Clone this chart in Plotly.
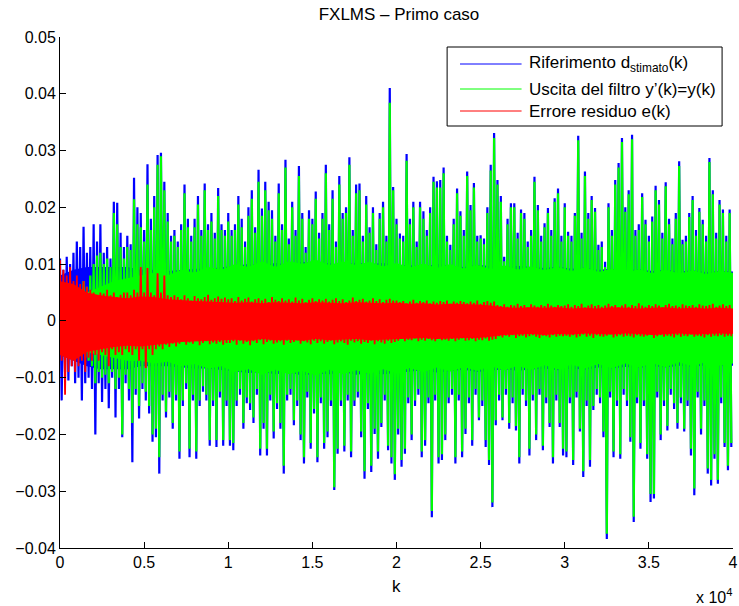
import numpy as np
import plotly.graph_objects as go

# sample step between successive extreme points (k units)
K_STEP = 100
# step of the dense-core envelope samples (k units)
K_BAND = 800

# all values below are in thousandths (x 1e-3)
blue_up = [
    11, 9, 11.3, 10, 12, 14, 13, 16.6, 12, 13,
    17, 14, 17, 12, 13, 11, 21, 20.8, 15.5, 13,
    15, 13.5, 25.2, 20, 19, 16, 27.6, 18, 22, 29.2,
    29.6, 24.5, 19, 15, 16, 14, 17, 24, 18, 15,
    18, 22, 16, 24.2, 17, 19, 15.5, 23.4, 17, 16,
    19, 16, 17, 22, 18, 14, 20, 23, 16.5, 26.6,
    19.8, 24.5, 21, 19.5, 15, 24.2, 17, 28.4, 14.5, 21,
    16, 27.3, 19, 13, 19.5, 18, 22.8, 15.5, 19, 27.5,
    17, 23, 14, 25.5, 19, 20, 28.8, 16, 24, 24.2,
    15, 22, 16.5, 20, 13.5, 19, 21, 15, 41, 23.6,
    18, 15.4, 15, 29.4, 18, 21, 14, 21, 19.3, 16,
    20, 25.4, 24.6, 24.8, 27, 15, 13.4, 18, 23.3, 19.3,
    16, 26.3, 20.4, 24.3, 15, 15.1, 14.5, 20, 27.5, 33.1,
    24.8, 22, 11.3, 18, 20.7, 20.7, 15.5, 19.6, 19, 14,
    16, 25.4, 20.4, 15, 17.2, 19.9, 16, 21.6, 23.3, 15,
    20.7, 15.7, 15, 19, 32.6, 15.5, 26.3, 19, 22, 19.9,
    13.4, 14, 10.4, 20.7, 16, 24.8, 27.8, 32.2, 20, 23,
    32.8, 16, 17, 22.5, 17.8, 15, 18.4, 23.8, 21.3, 15.5,
    24.4, 18, 14.5, 19, 28.1, 14.3, 15, 19, 22, 16,
    19.9, 17.8, 15, 28.7, 23, 15.5, 21.3, 19.6, 15, 19.6,
]
blue_lo = [
    -14, -9, -10.5, -8, -11, -10, -14, -11, -10, -12,
    -20, -11, -14.3, -12, -15.4, -10, -17, -12, -20.5, -11,
    -14, -24.9, -13, -17.2, -12, -14, -16.3, -21.3, -20.5, -26.9,
    -14, -17, -13.5, -19, -14, -24.3, -15, -12, -24, -14,
    -24.3, -15, -12.5, -14, -22, -15, -22.2, -13.5, -22, -15,
    -22, -22.8, -15, -13, -19, -14.5, -15.7, -18, -13, -23.7,
    -19, -23.7, -14, -20.7, -15.5, -19, -26.9, -14, -13, -18.4,
    -15, -21, -25.1, -13.5, -22.5, -16.3, -24.9, -14.5, -22.5, -20.5,
    -15, -29.8, -23.4, -15, -23, -14, -24, -15, -13.5, -20.5,
    -27.8, -15.5, -26.6, -19.9, -24.3, -18.7, -14, -22.8, -25.1, -28,
    -20, -25.7, -23.4, -14.5, -21, -15, -13, -24, -22, -14.5,
    -34.6, -14, -25.1, -24.5, -21, -14.5, -13, -25.1, -14, -24,
    -19.9, -14.5, -22, -13, -17.5, -15, -22.2, -25.4, -32.8, -18.4,
    -14, -17.5, -13, -19, -14.5, -19.3, -25.1, -13, -15, -23.7,
    -14, -21, -13, -22.8, -14.5, -18.7, -25.1, -14, -18.7, -23.7,
    -24, -14.5, -25.4, -13.5, -19.5, -27.5, -15, -25.7, -15.7, -13,
    -14.5, -20.5, -38.4, -13.5, -24, -15, -24.3, -13, -15, -21.3,
    -35.4, -14.5, -22.5, -15, -24.3, -31.9, -31.3, -13.5, -21, -15,
    -19.3, -13, -15.5, -19, -14.5, -19.5, -15, -23.7, -30.7, -13.5,
    -20, -15, -26.9, -29, -24.3, -28.7, -14.5, -22.2, -26.3, -22.2,
]
green_up = [
    3, 4, 3.5, 5, 4.5, 6, 5, 7, 6, 8,
    10, 11.5, 12, 10, 11, 9.5, 19, 17, 13, 11,
    13, 12.5, 21.4, 17, 16.5, 14, 24, 16, 20, 27.5,
    29, 23, 17.5, 14, 15, 13, 16, 22.5, 16.5, 14,
    16.5, 20.5, 15, 23, 16, 17.5, 14.5, 22, 16, 15,
    17.5, 15, 16, 20.5, 16.5, 13, 18.5, 21.5, 15.5, 24.5,
    18.5, 23, 19.5, 18, 14, 22.5, 16, 27, 13.5, 20,
    15, 25.5, 18, 12, 18, 17, 21.5, 14.5, 18, 26,
    16, 21.5, 13, 24, 18, 19, 27.5, 15, 22.5, 23,
    14, 20.5, 15.5, 19, 12.5, 18, 20, 14, 38.4, 23,
    17, 14.5, 14, 28.2, 17, 20, 13, 20, 18, 15,
    19, 24.5, 23.5, 23.5, 26, 14, 12.5, 17, 22.5, 18.5,
    15, 25.5, 19.5, 23.5, 14, 14.5, 13.5, 19, 26.5, 32.2,
    24, 21, 10.5, 17, 20, 20, 14.5, 19, 18, 13,
    15, 24.5, 19.5, 14, 16.5, 19, 15, 21, 22.5, 14,
    20, 15, 14, 18.5, 31.8, 14.5, 25.5, 18, 21.3, 19.2,
    12.5, 13, 9.5, 20, 15, 24, 27, 31.5, 19.2, 22.3,
    32, 15, 16, 21.8, 17, 14, 17.5, 23, 20.5, 14.5,
    23.7, 17, 13.5, 18, 27.3, 13.5, 14, 18.3, 21.3, 15,
    19.2, 17, 14, 28, 22.3, 14.5, 20.5, 19, 14, 19,
]
green_lo = [
    -4, -5, -4.5, -5, -6, -5.5, -6, -6.5, -7, -8,
    -11, -9, -10, -9.5, -11, -9, -12, -10, -20, -9.5,
    -12, -18, -12, -15, -11, -12.5, -15, -20, -19, -24,
    -13, -16, -12.5, -18, -13, -23, -14, -11, -22.5, -13,
    -23, -14, -11.5, -13, -21, -14, -21, -12.5, -21, -14,
    -21, -21.5, -14, -12, -18, -13.5, -14.5, -17, -12, -22.5,
    -18, -22.5, -13, -19.5, -14.5, -18, -25.5, -13, -12, -17.5,
    -14, -20, -24, -12.5, -21.5, -15.5, -24, -13.5, -21.5, -19.5,
    -14, -29.3, -22.5, -14, -22, -13, -23, -14, -12.5, -19.5,
    -26.5, -14.5, -25.5, -19, -23, -18, -13, -22, -24, -27,
    -19, -24.5, -22.5, -13.5, -20, -14, -12, -23, -21, -13.5,
    -33.5, -13, -24, -23.5, -20, -13.5, -12, -24, -13, -23,
    -19, -13.5, -21, -12, -17, -14, -21, -24.5, -32, -17.5,
    -13, -17, -12, -18, -13.5, -18.5, -24, -12, -14, -22.5,
    -13, -20, -12, -22, -13.5, -18, -24, -13, -18, -22.5,
    -23, -13.5, -24.5, -12.5, -19, -26.5, -14, -24.5, -15, -12,
    -13.5, -19.5, -37.5, -12.5, -23, -14, -23.5, -12, -14, -20.5,
    -34.5, -13.5, -21.5, -14, -23.5, -30.5, -30.5, -12.5, -20, -14,
    -18.5, -12, -14.5, -18, -13.5, -19, -14, -22.5, -29.5, -12.5,
    -19, -14, -26, -28, -23.5, -28, -13.5, -21.5, -25.5, -21.5,
]
red_up = [
    10.7, 9, 8, 9.5, 7, 8, 6.5, 7, 6, 5.5,
    5, 4.5, 5, 4.8, 5.5, 4.5, 5, 4.2, 4.6, 5,
    5, 4.5, 5.5, 5, 9.5, 5, 9.3, 5, 4.5, 8.4,
    5, 8, 4.5, 4.2, 4.5, 4.2, 3.8, 4.5, 4, 3.6,
    4.4, 4, 3.8, 4.2, 4.6, 3.7, 4, 4.3, 3.9, 4.1,
    3.8, 4, 3.5, 4.2, 3.6, 3.9, 4.1, 3.4, 3.8, 4,
    3.6, 3.9, 3.3, 4.2, 3.7, 3.5, 4, 3.6, 3.8, 3.4,
    4.1, 3.6, 3.9, 3.3, 3.7, 4, 3.5, 3.8, 3.6, 3.9,
    3.4, 3.7, 4, 3.5, 3.8, 3.3, 3.6, 4.1, 3.5, 3.7,
    3.9, 3.4, 3.6, 4, 3.5, 3.8, 3.3, 3.7, 3.9, 3.6,
    3.6, 3.3, 3.5, 3.1, 3.4, 3.7, 3.2, 3.5, 3.3, 3.6,
    3.1, 3.4, 3.2, 3.5, 3.3, 3.6, 3.0, 3.4, 3.2, 3.5,
    3.3, 3.1, 3.4, 3.2, 3.6, 3.0, 3.3, 3.5, 3.2, 3.4,
    2.8, 2.6, 2.9, 2.5, 2.8, 2.7, 3.0, 2.6, 2.8, 2.4,
    2.9, 2.7, 2.5, 2.8, 2.6, 3.0, 2.7, 2.5, 2.8, 2.6,
    2.7, 2.9, 2.5, 2.8, 2.6, 3.0, 2.4, 2.7, 2.9, 2.6,
    2.8, 2.5, 2.7, 3.0, 2.6, 2.8, 2.4, 2.7, 2.9, 2.5,
    2.8, 2.6, 3.1, 2.7, 2.5, 2.8, 2.6, 2.9, 2.7, 2.4,
    2.8, 3.0, 2.6, 2.7, 2.5, 2.9, 2.7, 2.6, 2.8, 2.5,
    2.9, 2.7, 2.6, 2.8, 3.0, 2.5, 2.7, 2.9, 2.6, 2.8,
]
red_lo = [
    -7, -13, -9, -8, -9, -8, -7, -9, -6.5, -7,
    -6, -7, -5.5, -6, -8, -5, -6, -5.5, -6, -5,
    -5.5, -6, -5, -7, -5, -8.3, -5, -6, -5, -4.5,
    -5, -4.2, -4.6, -4, -4.5, -4, -3.6, -4.2, -3.8, -4,
    -3.5, -4.3, -3.9, -3.6, -4.1, -3.8, -4, -3.7, -4.2, -3.9,
    -3.9, -3.6, -4.2, -3.5, -4, -3.7, -4.3, -3.6, -3.9, -3.4,
    -4.1, -3.7, -3.5, -4, -3.8, -3.6, -4.2, -3.5, -3.9, -3.7,
    -3.4, -4, -3.6, -3.8, -4.1, -3.5, -3.9, -3.6, -4, -3.7,
    -3.5, -4.1, -3.8, -3.6, -3.9, -4.2, -3.5, -3.8, -3.6, -4,
    -3.7, -3.9, -3.5, -4.1, -3.6, -3.8, -4, -3.5, -3.9, -3.7,
    -3.5, -3.2, -3.6, -3.3, -3.4, -3.1, -3.6, -3.3, -3.5, -3.2,
    -3.4, -3.6, -3.1, -3.4, -3.3, -3.5, -3.2, -3.6, -3.3, -3.1,
    -3.5, -3.4, -3.2, -3.6, -3.3, -3.4, -3.1, -3.5, -3.3, -3.2,
    -2.7, -2.9, -2.6, -2.8, -2.5, -3.0, -2.7, -2.6, -2.9, -2.7,
    -2.5, -2.8, -3.0, -2.6, -2.7, -2.9, -2.5, -2.8, -2.6, -2.7,
    -2.6, -2.8, -2.5, -2.9, -2.7, -2.4, -2.8, -2.6, -3.0, -2.5,
    -2.7, -2.8, -2.6, -2.4, -2.9, -2.7, -2.5, -2.8, -2.6, -2.7,
    -2.9, -2.5, -2.7, -2.8, -2.6, -2.4, -3.0, -2.7, -2.5, -2.8,
    -2.6, -2.7, -2.9, -2.5, -2.8, -2.6, -2.7, -2.4, -2.8, -2.6,
    -2.7, -2.9, -2.5, -2.8, -2.6, -2.7, -2.5, -2.8, -2.6, -2.7,
]

# dense-core envelopes (solid region of each signal), one value every K_BAND samples
blue_core_up = [
    8, 9, 9.5, 9.5, 9.5, 9.5, 9, 9, 8.8, 9,
    9.2, 9.2, 9.4, 9.7, 10, 9.8, 10.2, 9.9, 10.4, 10.1,
    10.2, 9.8, 10.3, 10, 10.2, 9.9, 9.8, 9.6, 10, 9.7,
    9.5, 9.9, 9.6, 9.4, 9.7, 9.5, 9.3, 9.6, 9.2, 9.4,
    9, 9.2, 8.9, 9.1, 8.8, 9, 8.7, 8.9, 8.6, 8.8, 8.7,
]
blue_core_lo = [
    -6, -7, -8, -8.5, -8.5, -8.5, -8, -8, -8, -8.2,
    -8.4, -8.4, -8.6, -8.9, -9.2, -9, -9.4, -9.1, -9.6, -9.3,
    -9.4, -9, -9.5, -9.2, -9.4, -9.1, -8.9, -8.7, -9.1, -8.8,
    -8.6, -9, -8.7, -8.5, -8.8, -8.6, -8.4, -8.7, -8.4, -8.6,
    -8.2, -8.4, -8.1, -8.3, -8, -8.2, -7.9, -8.1, -7.8, -8, -7.9,
]
green_core_up = [
    3, 4, 5, 6, 7, 7.5, 8, 8.5, 8, 9,
    8.5, 9.5, 9, 10, 9.5, 10.5, 9.5, 10.5, 10, 10.8,
    9.8, 10.5, 9.8, 10.4, 9.6, 10.2, 9.4, 10.1, 9.3, 10,
    9.2, 9.9, 9.1, 9.8, 9, 9.6, 8.9, 9.5, 8.8, 9.4,
    8.6, 9.2, 8.5, 9.1, 8.4, 9, 8.3, 8.9, 8.2, 8.8, 8.5,
]
green_core_lo = [
    -4, -5, -5.5, -6, -6.5, -7, -7, -7.5, -7.2, -8,
    -7.6, -8.4, -8, -9, -8.5, -9.5, -8.6, -9.4, -8.8, -9.6,
    -8.6, -9.4, -8.7, -9.3, -8.5, -9.2, -8.3, -9, -8.2, -8.9,
    -8.1, -8.8, -8, -8.7, -7.9, -8.6, -7.8, -8.5, -7.7, -8.4,
    -7.6, -8.3, -7.5, -8.2, -7.4, -8.1, -7.3, -8, -7.2, -7.9, -7.5,
]
red_core_up = [
    7, 6.5, 5, 4.5, 4.2, 4, 4.3, 4.2, 3.8, 3.6,
    3.5, 3.4, 3.3, 3.2, 3.3, 3.1, 3.3, 3.2, 3.1, 3.3,
    3.2, 3.1, 3.3, 3.2, 3.1, 3.2, 3.0, 3.1, 2.9, 3.0,
    3.0, 2.9, 2.7, 2.4, 2.3, 2.4, 2.3, 2.4, 2.2, 2.3,
    2.2, 2.4, 2.3, 2.2, 2.3, 2.4, 2.2, 2.3, 2.2, 2.3, 2.2,
]
red_core_lo = [
    -6, -7, -5.5, -5, -4.6, -4.4, -4.5, -4.3, -4, -3.7,
    -3.6, -3.5, -3.4, -3.3, -3.5, -3.2, -3.4, -3.3, -3.5, -3.2,
    -3.4, -3.3, -3.2, -3.4, -3.3, -3.2, -3.1, -3.0, -3.2, -3.1,
    -3.0, -3.0, -2.8, -2.5, -2.4, -2.3, -2.5, -2.3, -2.4, -2.2,
    -2.3, -2.4, -2.2, -2.3, -2.5, -2.3, -2.2, -2.4, -2.3, -2.2, -2.3,
]

x_tickvals = [0, 5000, 10000, 15000, 20000, 25000, 30000, 35000, 40000]
x_ticktext = ["0", "0.5", "1", "1.5", "2", "2.5", "3", "3.5", "4"]
y_tickvals = [0.05, 0.04, 0.03, 0.02, 0.01, 0, -0.01, -0.02, -0.03, -0.04]
y_ticktext = ["0.05", "0.04", "0.03", "0.02", "0.01", "0",
              "\u22120.01", "\u22120.02", "\u22120.03", "\u22120.04"]

names = ["Riferimento d<sub>stimato</sub>(k)",
         "Uscita del filtro y\u2019(k)=y(k)",
         "Errore residuo e(k)"]
colors = ["#0000ff", "#00ff00", "#ff0000"]


def signal(up, lo):
    y = np.empty(2 * len(up))
    y[0::2] = np.array(up) * 1e-3
    y[1::2] = np.array(lo) * 1e-3
    x = np.arange(len(y)) * K_STEP
    return x, y


def band(up, lo):
    k = np.arange(len(up)) * K_BAND
    x = np.concatenate([k, k[::-1]])
    y = np.concatenate([np.array(up), np.array(lo)[::-1]]) * 1e-3
    return x, y


FONT = "Liberation Sans, Arial, Helvetica, sans-serif"
fig = go.Figure()
series = [
    (blue_up, blue_lo, blue_core_up, blue_core_lo),
    (green_up, green_lo, green_core_up, green_core_lo),
    (red_up, red_lo, red_core_up, red_core_lo),
]
widths = [2.2, 2.2, 1.8]
for (up, lo, cup, clo), name, col, lw in zip(series, names, colors, widths):
    bx, by = band(cup, clo)
    fig.add_trace(go.Scatter(x=bx, y=by, mode="lines", fill="toself", fillcolor=col,
                             line=dict(width=0, color=col), hoverinfo="skip",
                             showlegend=False))
    x, y = signal(up, lo)
    fig.add_trace(go.Scatter(x=x, y=y, mode="lines", name=name,
                             line=dict(color=col, width=lw, simplify=False),
                             hoverinfo="skip", showlegend=False))

# plot-area geometry (pixels)
L, R, T, B = 60, 738, 37, 548
W, H = 739, 606
pw, ph = R - L, B - T


def px(xp):
    return (xp - L) / pw


def py(yp):
    return (B - yp) / ph


shapes = [dict(type="rect", xref="paper", yref="paper",
               x0=px(450), x1=px(727), y0=py(126), y1=py(47),
               line=dict(color="black", width=1), fillcolor="white", layer="above")]
annotations = []
rows = [64, 89, 111]
for rowy, name, col in zip(rows, names, colors):
    shapes.append(dict(type="line", xref="paper", yref="paper",
                       x0=px(463), x1=px(525), y0=py(rowy), y1=py(rowy),
                       line=dict(color=col, width=1), layer="above"))
    annotations.append(dict(xref="paper", yref="paper", x=px(530), y=py(rowy),
                            xanchor="left", yanchor="middle", text=name, showarrow=False,
                            font=dict(family=FONT, size=17, color="black")))

annotations.append(dict(xref="paper", yref="paper", x=px(399), y=py(586),
                        xanchor="center", yanchor="middle", text="k", showarrow=False,
                        font=dict(family=FONT, size=17, color="black")))
annotations.append(dict(xref="paper", yref="paper", x=px(739), y=py(596),
                        xanchor="right", yanchor="middle", text="x 10<sup>4</sup>",
                        showarrow=False, font=dict(family=FONT, size=16, color="black")))

fig.update_layout(
    width=W, height=H,
    margin=dict(l=L, r=W - R, t=T, b=H - B, pad=0),
    paper_bgcolor="white", plot_bgcolor="white",
    title=dict(text="FXLMS \u2013 Primo caso", x=399 / W, xanchor="center",
               y=1 - 14 / H, yanchor="middle",
               font=dict(family=FONT, size=17, color="black")),
    font=dict(family=FONT, size=16, color="black"),
    shapes=shapes, annotations=annotations,
    showlegend=False,
)
fig.update_xaxes(range=[0, 40000], tickvals=x_tickvals, ticktext=x_ticktext,
                 showgrid=False, zeroline=False, showline=True, linecolor="black",
                 linewidth=1, ticks="inside", ticklen=6, tickcolor="black",
                 ticklabeloverflow="allow",
                 tickfont=dict(family=FONT, size=16, color="black"), mirror=False)
fig.update_yaxes(range=[-0.04, 0.05], tickvals=y_tickvals, ticktext=y_ticktext,
                 showgrid=False, zeroline=False, showline=True, linecolor="black",
                 linewidth=1, ticks="inside", ticklen=6, tickcolor="black",
                 ticklabeloverflow="allow",
                 tickfont=dict(family=FONT, size=16, color="black"), mirror=False)

fig.write_html("out.html")
